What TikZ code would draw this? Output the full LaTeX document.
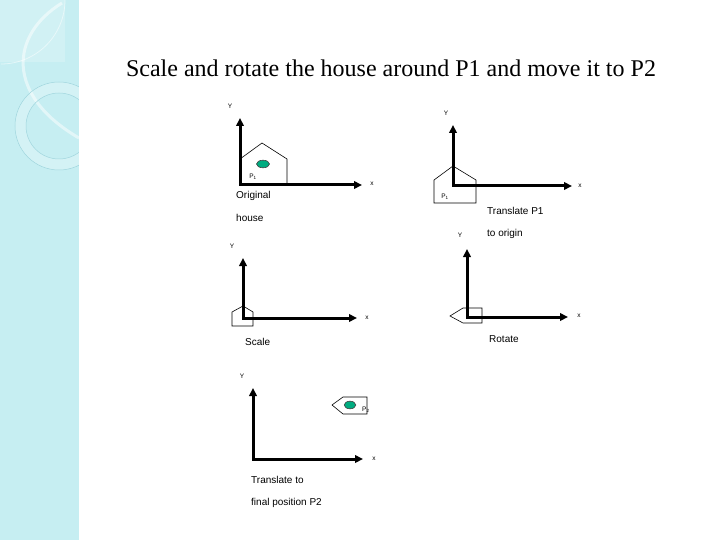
\documentclass[tikz,border=0pt]{standalone}
\usepackage{fontspec}
\setmainfont{Liberation Serif}
\newfontfamily\smallfont{Liberation Sans}
\usetikzlibrary{arrows.meta}
\definecolor{band}{RGB}{198,238,242}
\definecolor{ringline}{RGB}{160,214,222}
\definecolor{seagreen}{RGB}{0,172,128}
\tikzset{
  axis/.style={line width=3pt,{Triangle[length=8pt,width=7.5pt]}-{Triangle[length=8pt,width=7.5pt]}},
  house/.style={draw,line width=0.6pt},
  dot/.style={draw=black!75,fill=seagreen,line width=0.6pt},
  caption/.style={font=\smallfont\fontsize{10}{11}\selectfont,inner sep=0pt,anchor=west},
  axlbl/.style={font=\smallfont\fontsize{6.5}{7}\selectfont,inner sep=0pt}
}
\begin{document}
\begin{tikzpicture}[x=1pt,y=-1pt]
    \useasboundingbox (0,0) rectangle (720,540);
    % left band
    \fill[band] (0,0) rectangle (79,540);
    \fill[white,opacity=0.2] (0,0) rectangle (65,62);
    \draw[white,opacity=0.5,line width=0.8pt] (65,0) arc[start angle=0,end angle=90,radius=64];
    \draw[white,opacity=0.5,line width=3pt] (62,3) .. controls (10,35) and (5,95) .. (79,138);
    \fill[white,opacity=0.25,even odd rule] (59,126) circle[radius=44] (59,126) circle[radius=33];
    \draw[ringline,line width=0.5pt] (59,126) circle[radius=44] (59,126) circle[radius=33];
    \fill[white] (79,0) rectangle (720,540);
    % title
    \node[font=\fontsize{24}{28}\selectfont] (title) at (391,68) {Scale and rotate the house around P1 and move it to P2};
    \def \Axes{
      1/240/185/362/118/230/106/372/184,
      2/453/186/572/125/446/113/580/186,
      3/243/318/357/258/232/246/367/318,
      4/467/317/568/249/460/235/579/316,
      5/253/459/363/388/242/376/374/459}
    \foreach \id / \ox / \oy / \xe / \ye / \yx / \yy / \xx / \xy in \Axes{
      \coordinate (o\id) at (\ox,\oy);
      \coordinate (xe\id) at (\xe,\oy);
      \coordinate (ye\id) at (\ox,\ye);
      \node[axlbl] (ylab\id) at (\yx,\yy) {Y};
      \node[axlbl] (xlab\id) at (\xx,\xy) {x};
      \draw[axis] (xe\id) -- (o\id) -- (ye\id);
    }
    % houses
    \draw[house] (240,185) -- (240,159) -- (262,143) -- (287,159) -- (287,185) -- cycle;
    \draw[house] (434,203) -- (434,180) -- (453,166) -- (476,180) -- (476,203) -- cycle;
    \draw[house] (232,326) -- (232,312) -- (243,306) -- (253,312) -- (253,326) -- cycle;
    \draw[house] (450,316) -- (463,308) -- (482,308) -- (482,323) -- (463,323) -- cycle;
    \draw[house] (332,405) -- (343,397) -- (367,397) -- (367,414) -- (343,414) -- cycle;
    \draw[dot] (263,164) ellipse[x radius=6.5,y radius=3.8];
    \draw[dot] (350,405) ellipse[x radius=5.8,y radius=3.8];
    \node[axlbl] (p1a) at (253,177) {P\textsubscript{1}};
    \node[axlbl] (p1b) at (445,197) {P\textsubscript{1}};
    \node[axlbl,anchor=west] (p2) at (362,410) {P\textsubscript{2}};
    % captions
    \node[caption] (orig) at (236,196) {Original};
    \node[caption] (origb) at (236,218) {house};
    \node[caption] (trans) at (487,211) {Translate P1};
    \node[caption] (transb) at (487,234) {to origin};
    \node[caption] (scale) at (245,342) {Scale};
    \node[caption] (rot) at (489,339) {Rotate};
    \node[caption] (fin) at (251,480) {Translate to};
    \node[caption] (finb) at (251,503) {final position P2};
\end{tikzpicture}
\end{document}
